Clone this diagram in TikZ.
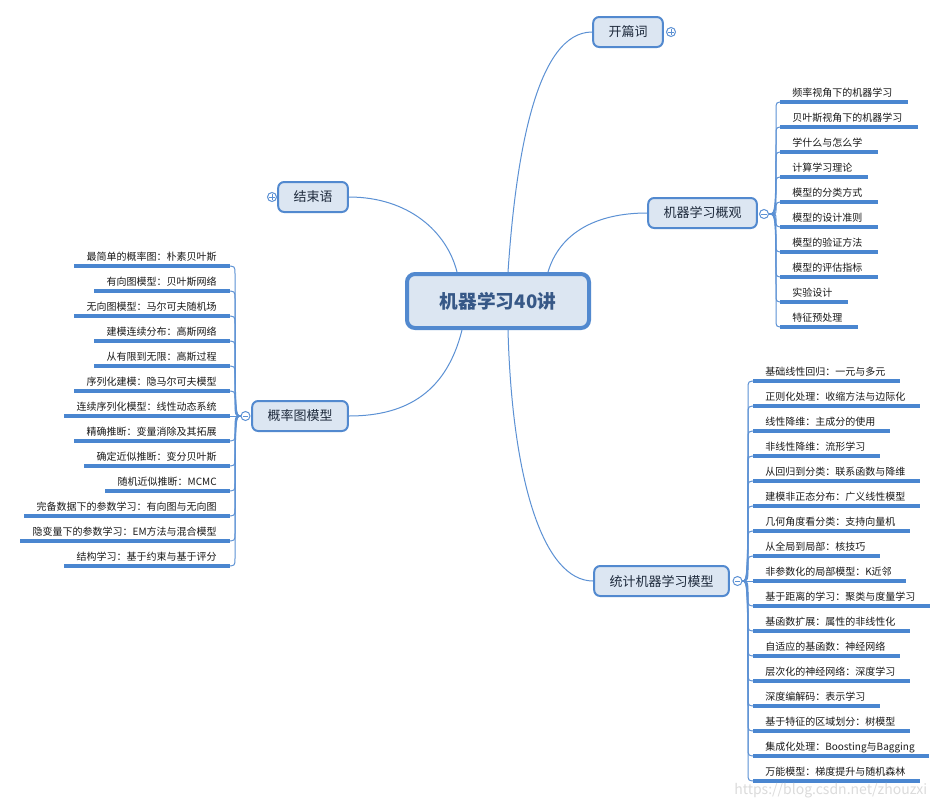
\documentclass[tikz,border=0pt]{standalone}
\usepackage{fontspec}
\setmainfont{Noto Sans CJK SC}
\definecolor{cblue}{RGB}{92,145,212}
\definecolor{ublue}{RGB}{74,134,208}
\definecolor{nfill}{RGB}{220,230,242}
\definecolor{nborder}{RGB}{82,137,207}
\definecolor{ntext}{RGB}{30,42,60}
\definecolor{ctext}{RGB}{55,88,135}
\definecolor{ltext}{RGB}{25,25,25}
\begin{document}
\begin{tikzpicture}[x=0.75pt,y=-0.75pt,
  conn/.style={draw=cblue, line width=0.75pt},
  underl/.style={draw=ublue, line width=2.4pt},
  mainnode/.style={draw=nborder, fill=nfill, line width=3pt, rounded corners=6pt, minimum width=136.5pt, minimum height=40.5pt, inner sep=0pt, font=\fontsize{14pt}{17pt}\selectfont\bfseries, text=ctext},
  branch/.style={draw=nborder, fill=nfill, line width=1.5pt, rounded corners=4.5pt, minimum height=22.5pt, inner xsep=11.5pt, inner ysep=0pt, font=\fontsize{9.75pt}{12pt}\selectfont, text=ntext},
  leaf/.style={inner sep=0pt, font=\fontsize{7.5pt}{9pt}\selectfont, text=ltext},
  toggle/.style={circle, draw=cblue, fill=white, line width=0.75pt, minimum size=6.75pt, inner sep=0pt},
  sign/.style={draw=cblue, line width=0.6pt}
]
\useasboundingbox (0,0) rectangle (948,800);
\fill[white] (0,0) rectangle (948,800);

% main and branch nodes
\node[mainnode] (c) at (498,301) {机器学习40讲};
\node[branch] (kp) at (628,32) {开篇词};
\node[branch] (gg) at (702.5,213) {机器学习概观};
\node[branch] (js) at (313,197) {结束语};
\node[branch] (gl) at (300,416) {概率图模型};
\node[branch] (tj) at (661.5,581) {统计机器学习模型};

% toggles
\node[toggle] (tkp) at (671,32) {};
\node[toggle] (tjs) at (272,197) {};
\node[toggle] (tgg) at (764,214) {};
\node[toggle] (tgl) at (245.5,416) {};
\node[toggle] (ttj) at (737.5,581) {};
\draw[sign] ([xshift=-2pt]tkp.center) -- ([xshift=2pt]tkp.center) ([yshift=-2pt]tkp.center) -- ([yshift=2pt]tkp.center);
\draw[sign] ([xshift=-2pt]tjs.center) -- ([xshift=2pt]tjs.center) ([yshift=-2pt]tjs.center) -- ([yshift=2pt]tjs.center);
\draw[sign] ([xshift=-2pt]tgg.center) -- ([xshift=2pt]tgg.center);
\draw[sign] ([xshift=-2pt]tgl.center) -- ([xshift=2pt]tgl.center);
\draw[sign] ([xshift=-2pt]ttj.center) -- ([xshift=2pt]ttj.center);

% main connectors
\draw[conn] (js.east) .. controls +(60,0) and +(-10,-40) .. ([xshift=-30.75pt]c.north);
\draw[conn] ([xshift=7.5pt]c.north) .. controls +(8,-120) and +(-55,0) .. (kp.west);
\draw[conn] ([xshift=37.5pt]c.north) .. controls +(12,-40) and +(-50,0) .. (gg.west);
\draw[conn] ([xshift=-27pt]c.south) .. controls +(-15,60) and +(60,0) .. (gl.east);
\draw[conn] ([xshift=7.5pt]c.south) .. controls +(4,150) and +(-50,0) .. (tj.west);

% leaves of 机器学习概观
\foreach \t [count=\i] in {频率视角下的机器学习,贝叶斯视角下的机器学习,学什么与怎么学,计算学习理论,模型的分类方式,模型的设计准则,模型的验证方法,模型的评估指标,实验设计,特征预处理}{
  \pgfmathsetmacro\yy{77+25*\i}
  \pgfmathsetmacro\yb{\yy-5.5}
  \pgfmathsetmacro\ym{\yy+8*sign(214-\yy)}
  \node[leaf, anchor=base west] (a\i) at (792,\yb) {\t};
  \draw[conn] (tgg.east) .. controls (776,214) .. (776,\ym) .. controls (776,\yy) .. (784,\yy);
  \draw[underl] (780,\yy) -- ([shift={(15,5.5)}]a\i.base east);
}

% leaves of 概率图模型
\foreach \t [count=\i] in {最简单的概率图：朴素贝叶斯,有向图模型：贝叶斯网络,无向图模型：马尔可夫随机场,建模连续分布：高斯网络,从有限到无限：高斯过程,序列化建模：隐马尔可夫模型,连续序列化模型：线性动态系统,精确推断：变量消除及其拓展,确定近似推断：变分贝叶斯,随机近似推断：MCMC,完备数据下的参数学习：有向图与无向图,隐变量下的参数学习：EM方法与混合模型,结构学习：基于约束与基于评分}{
  \pgfmathsetmacro\yy{241+25*\i}
  \pgfmathsetmacro\yb{\yy-5.5}
  \pgfmathsetmacro\ym{\yy+8*sign(416-\yy)}
  \node[leaf, anchor=base east] (b\i) at (217,\yb) {\t};
  \draw[conn] (226,\yy) .. controls (235,\yy) .. (235,\ym) .. controls (235,416) .. (tgl.west);
  \draw[underl] ([shift={(-12,5.5)}]b\i.base west) -- (230,\yy);
}

% leaves of 统计机器学习模型
\foreach \t [count=\i] in {基础线性回归：一元与多元,正则化处理：收缩方法与边际化,线性降维：主成分的使用,非线性降维：流形学习,从回归到分类：联系函数与降维,建模非正态分布：广义线性模型,几何角度看分类：支持向量机,从全局到局部：核技巧,非参数化的局部模型：K近邻,基于距离的学习：聚类与度量学习,基函数扩展：属性的非线性化,自适应的基函数：神经网络,层次化的神经网络：深度学习,深度编解码：表示学习,基于特征的区域划分：树模型,集成化处理：Boosting与Bagging,万能模型：梯度提升与随机森林}{
  \pgfmathsetmacro\yy{356+25*\i}
  \pgfmathsetmacro\yb{\yy-5.5}
  \pgfmathsetmacro\ym{\yy+8*sign(581-\yy)}
  \node[leaf, anchor=base west] (s\i) at (765,\yb) {\t};
  \draw[conn] (ttj.east) .. controls (748,581) .. (748,\ym) .. controls (748,\yy) .. (757,\yy);
  \draw[underl] (753,\yy) -- ([shift={(14,5.5)}]s\i.base east);
}

% watermark
\node[anchor=west, inner sep=0pt, font=\fontsize{10.5pt}{12pt}\selectfont, text=black!14] (wm) at (734,791) {https://blog.csdn.net/zhouzxi};
\end{tikzpicture}
\end{document}
